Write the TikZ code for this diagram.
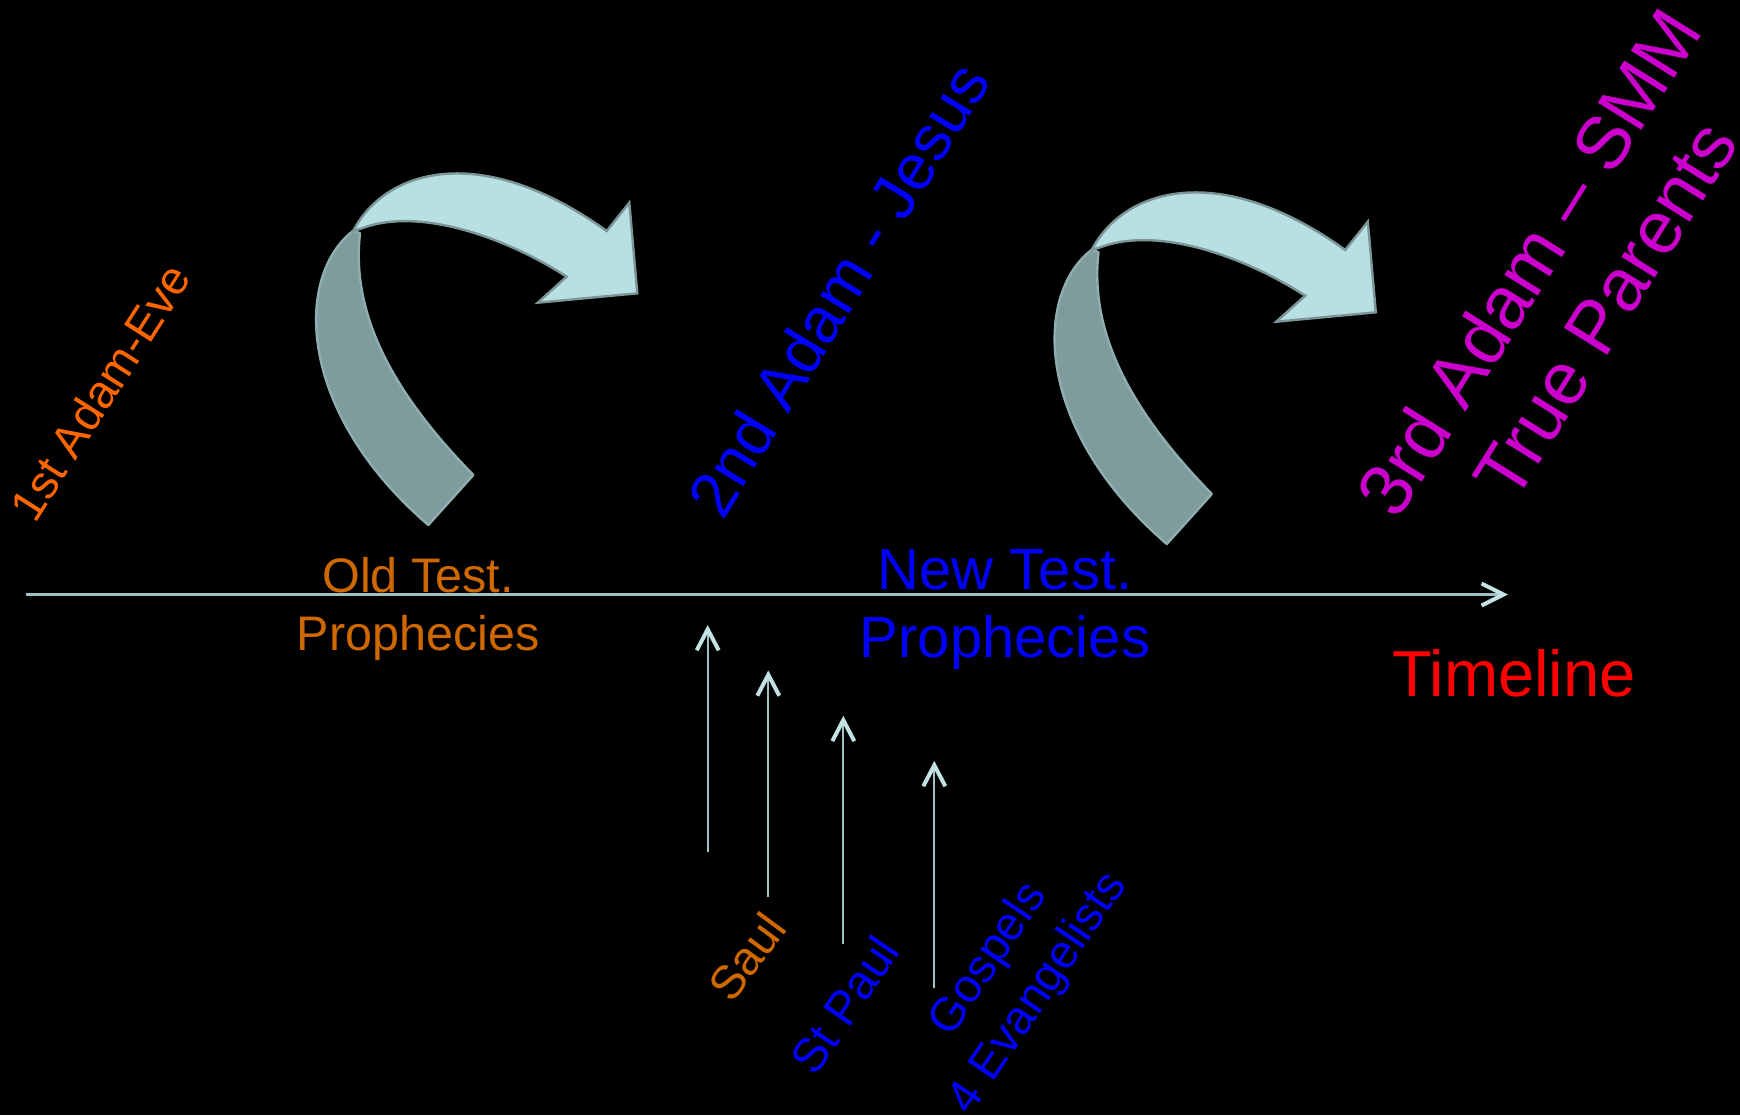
\documentclass[tikz,border=0pt]{standalone}
\usepackage{fontspec}
\setmainfont{Liberation Sans}
\usetikzlibrary{arrows.meta}
\definecolor{linec}{RGB}{160,192,196}
\definecolor{tipc}{RGB}{196,226,228}
\definecolor{darkrib}{RGB}{127,155,157}
\definecolor{darkribedge}{RGB}{143,174,176}
\definecolor{lightrib}{RGB}{184,224,227}
\definecolor{lightribedge}{RGB}{124,150,152}
\definecolor{orangeA}{RGB}{255,102,0}
\definecolor{brownO}{RGB}{208,104,0}
\definecolor{blueT}{RGB}{0,0,255}
\definecolor{magT}{RGB}{204,0,204}
\definecolor{redT}{RGB}{255,0,0}
\tikzset{
  lbl/.style={inner sep=0pt, align=center},
  timeline/.style={draw=linec, line width=1.25pt,
    -{Straight Barb[length=11pt,width=11pt,line width=2pt,color=tipc]}},
  uparrow/.style={draw=linec, line width=1pt,
    -{Straight Barb[length=10.5pt,width=11pt,line width=2pt,color=tipc]}},
  ribdark/.style={fill=darkrib, draw=darkribedge, line width=1.2pt, line join=round},
  riblight/.style={fill=lightrib, draw=lightribedge, line width=1.2pt, line join=miter},
}
\newcommand{\ribbonshape}{%
  \filldraw[ribdark] (428.3,525) -- (473.3,475)
    .. controls (400,400) and (350,320) .. (360,233.3)
    -- (353.3,230.7)
    .. controls (295,275) and (295,410) .. (428.3,525)
    -- cycle;
  \filldraw[riblight] (353.3,230.7)
    .. controls (385,170) and (480,140) .. (606.7,231)
    -- (629.3,202.7) -- (637.3,293.3) -- (537.7,302.7) -- (566.7,276.7)
    .. controls (510,240) and (420,205) .. (360,229)
    -- cycle;
}
\begin{document}
\begin{tikzpicture}[x=0.5pt, y=-0.5pt]
  \useasboundingbox (0,0) rectangle (1740,1115);
  \fill[black] (0,0) rectangle (1740,1115);

  % curved ribbon arrows
  \begin{scope}\ribbonshape\end{scope}
  \begin{scope}[shift={(738.5,19)}]\ribbonshape\end{scope}

  % timeline
  \coordinate (tl0) at (26,594.5);
  \coordinate (tl1) at (1508,594.5);
  \draw[timeline] (tl0) -- (tl1);

  % vertical arrows
  \coordinate (a1s) at (707.7,852);    \coordinate (a1e) at (707.7,625);
  \coordinate (a2s) at (768.3,897.4);  \coordinate (a2e) at (768.3,670.4);
  \coordinate (a3s) at (843.3,943.5);  \coordinate (a3e) at (843.3,715.8);
  \coordinate (a4s) at (934.3,987.9);  \coordinate (a4e) at (934.3,760.9);
  \draw[uparrow] (a1s) -- (a1e);
  \draw[uparrow] (a2s) -- (a2e);
  \draw[uparrow] (a3s) -- (a3e);
  \draw[uparrow] (a4s) -- (a4e);

  % labels
  \node[lbl, text=orangeA, rotate=57.5, font=\fontsize{23.3}{28}\selectfont] (adam1) at (100,392) {1st Adam-Eve};
  \node[lbl, text=brownO, font=\fontsize{24.25}{28.65}\selectfont] (oldt) at (418,608.8) {Old Test.\\Prophecies};
  \node[lbl, text=blueT, font=\fontsize{29}{34.15}\selectfont] (newt) at (1005,609.4) {New Test.\\Prophecies};
  \node[lbl, text=redT, font=\fontsize{32.5}{39}\selectfont] (tlab) at (1514,673) {Timeline};
  \node[lbl, text=blueT, rotate=58.6, font=\fontsize{32}{38}\selectfont] (adam2) at (838,289) {2nd Adam - Jesus};
  \node[lbl, text=magT, rotate=58, font=\fontsize{37.2}{44.9}\selectfont] (adam3) at (1566.7,285.8) {3rd Adam – SMM\\True Parents};
  \node[lbl, text=brownO, rotate=53.6, font=\fontsize{23.6}{28}\selectfont] (saul) at (746.7,956.8) {Saul};
  \node[lbl, text=blueT, rotate=55.5, font=\fontsize{23.8}{28}\selectfont] (stpaul) at (844.5,1004.9) {St Paul};
  \node[lbl, text=blueT, rotate=56, font=\fontsize{23.5}{30}\selectfont] (gosp) at (1014.1,976.8) {Gospels\\4 Evangelists};
\end{tikzpicture}
\end{document}
